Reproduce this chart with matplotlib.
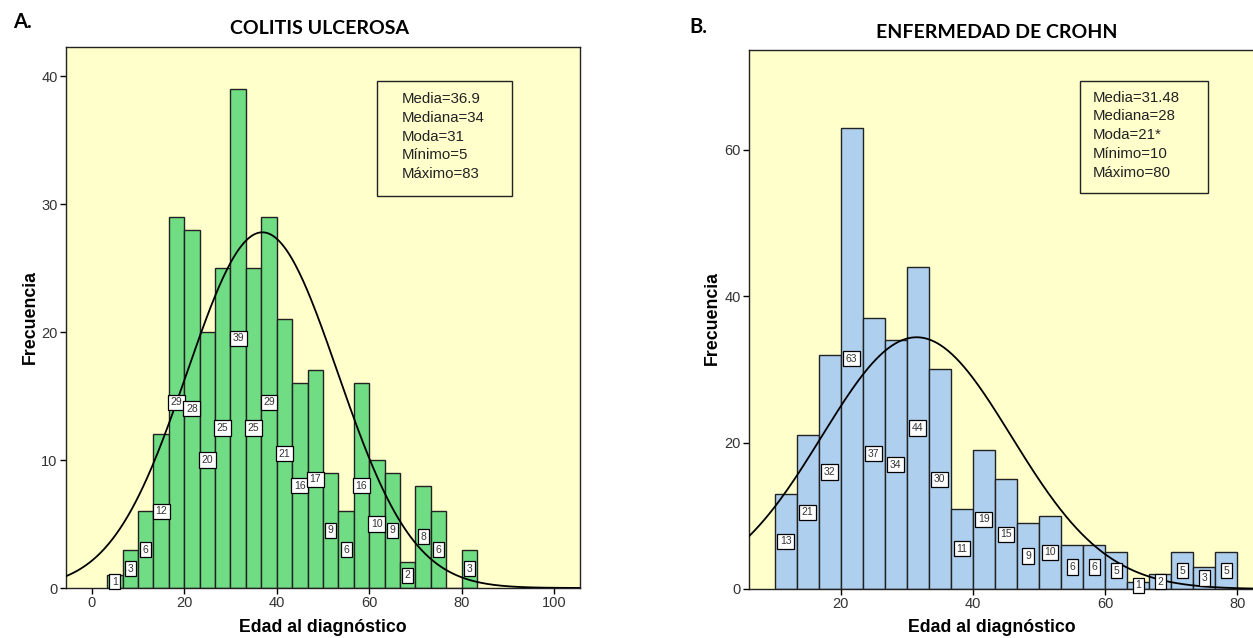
import numpy as np
import matplotlib
matplotlib.use("Agg")
import matplotlib.pyplot as plt

# ---------------- data ----------------
bin_width = 10.0 / 3.0
cu_first_edge = 10.0 / 3.0
cu_counts = [1, 3, 6, 12, 29, 28, 20, 25, 39, 25, 29, 21, 16, 17, 9, 6, 16, 10, 9, 2, 8, 6, 0, 3]
cu_mean, cu_sd = 36.9, 16.27
cu_stats = ["Media=36.9", "Mediana=34", "Moda=31", "Mínimo=5", "Máximo=83"]

ec_first_edge = 10.0
ec_counts = [13, 21, 32, 63, 37, 34, 44, 30, 11, 19, 15, 9, 10, 6, 6, 5, 1, 2, 5, 3, 5]
ec_mean, ec_sd = 31.48, 14.34
ec_stats = ["Media=31.48", "Mediana=28", "Moda=21*", "Mínimo=10", "Máximo=80"]

cu_xticks = [0, 20, 40, 60, 80, 100]
cu_yticks = [0, 10, 20, 30, 40]
ec_xticks = [20, 40, 60, 80]
ec_yticks = [0, 20, 40, 60]

# ---------------- style ----------------
BG = "#ffffcc"
GREEN = "#70dc84"
BLUE = "#aecfee"
W, H = 1253, 638

fig = plt.figure(figsize=(W / 100, H / 100), dpi=100)


def px_axes(x0, y0, x1, y1):
    return fig.add_axes([x0 / W, 1 - y1 / H, (x1 - x0) / W, (y1 - y0) / H])


def panel(ax, first_edge, counts, mean, sd, color, xlim, ylim, xticks, yticks):
    counts = np.array(counts, dtype=float)
    left_edges = first_edge + bin_width * np.arange(len(counts))
    ax.set_facecolor(BG)
    ax.bar(left_edges, counts, width=bin_width, align="edge", color=color,
           edgecolor="#222222", linewidth=1.0, zorder=2)
    # fitted normal curve
    xs = np.linspace(xlim[0], xlim[1], 400)
    n = counts.sum()
    ys = n * bin_width / (sd * np.sqrt(2 * np.pi)) * np.exp(-0.5 * ((xs - mean) / sd) ** 2)
    ax.plot(xs, ys, color="black", lw=1.3, zorder=3)
    # count labels
    for le, c in zip(left_edges, counts):
        if c > 0:
            ax.text(le + bin_width / 2, c / 2, f"{int(c)}", ha="center", va="center",
                    fontsize=7.5, family="Liberation Sans", color="#333333", zorder=4,
                    bbox=dict(boxstyle="square,pad=0.25", fc="white", ec="black", lw=0.9))
    ax.set_xlim(*xlim)
    ax.set_ylim(*ylim)
    ax.set_xticks(xticks)
    ax.set_yticks(yticks)
    ax.tick_params(direction="out", length=4, width=1, labelsize=10.5, colors="black",
                   labelcolor="#333333", pad=2)
    for lab in ax.get_xticklabels() + ax.get_yticklabels():
        lab.set_family("Liberation Sans")
    for s in ax.spines.values():
        s.set_linewidth(1.0)
        s.set_color("#222222")


# Panel A
axA = px_axes(66, 47, 580, 588)
pxA = 92.5 / 20
panel(axA, cu_first_edge, cu_counts, cu_mean, cu_sd, GREEN,
      (-(91.7 - 66) / pxA, (580 - 91.7) / pxA), (0, (588 - 47) / 12.8), cu_xticks, cu_yticks)

# Panel B
axB = px_axes(749, 49.5, 1275, 589)
pxB = 6.61
panel(axB, ec_first_edge, ec_counts, ec_mean, ec_sd, BLUE,
      (20 - (840.7 - 749) / pxB, 80 + (1275 - 1237.3) / pxB), (0, (589 - 49.5) / 7.317),
      ec_xticks, ec_yticks)
axB.spines["right"].set_visible(False)


# Stats boxes
def stats_box(x0, y0, x1, y1, tx, ty0, dy, lines):
    fig.patches.append(plt.Rectangle((x0 / W, 1 - y1 / H), (x1 - x0) / W, (y1 - y0) / H,
                                     transform=fig.transFigure, fill=False,
                                     ec="#222222", lw=1.0, zorder=10))
    for i, t in enumerate(lines):
        fig.text(tx / W, 1 - (ty0 + i * dy) / H, t, ha="left", va="center",
                 fontsize=10.8, family="Liberation Sans", color="#222222")


stats_box(377, 81, 512, 196, 402, 99, 18.8, cu_stats)
stats_box(1080, 81, 1208, 193, 1093, 97.5, 18.8, ec_stats)

# Titles & panel letters
fig.text(320 / W, 1 - 29 / H, "COLITIS ULCEROSA", ha="center", va="center",
         fontsize=14, fontweight="bold", family="Lato")
fig.text(997 / W, 1 - 32 / H, "ENFERMEDAD DE CROHN", ha="center", va="center",
         fontsize=14, fontweight="bold", family="Lato")
fig.text(22 / W, 1 - 22 / H, "A.", ha="center", va="center",
         fontsize=14.5, fontweight="bold", family="Lato")
fig.text(698 / W, 1 - 27 / H, "B.", ha="center", va="center",
         fontsize=14.5, fontweight="bold", family="Lato")

# Axis labels
for x, y in [(30, 317), (712, 318)]:
    fig.text(x / W, 1 - y / H, "Frecuencia", rotation=90, ha="center", va="center",
             fontsize=12.8, fontweight="bold", family="Liberation Sans")
for x in [323, 992]:
    fig.text(x / W, 1 - 628 / H, "Edad al diagnóstico", ha="center", va="center",
             fontsize=12.8, fontweight="bold", family="Liberation Sans")

fig.savefig("out.png", dpi=100)
